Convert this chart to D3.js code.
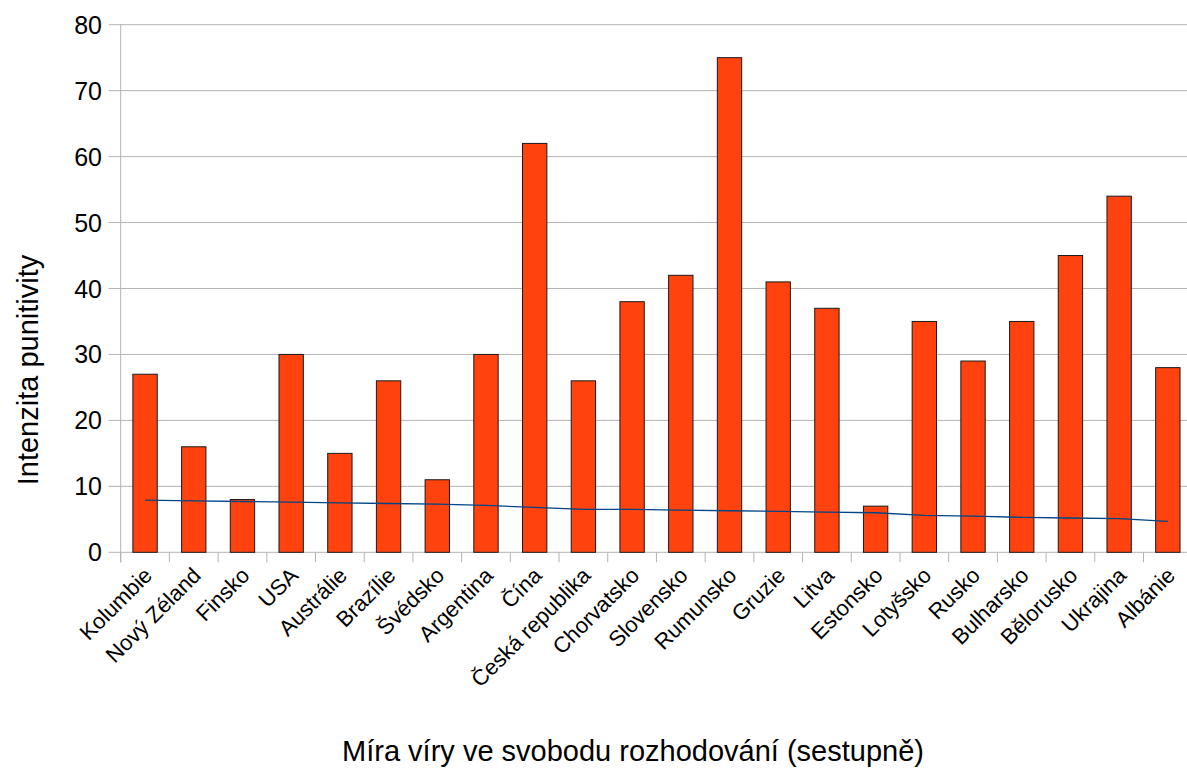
<!DOCTYPE html>
<html>
<head>
<meta charset="utf-8">
<script src="https://cdn.jsdelivr.net/npm/d3@7"></script>
<style>
  html, body { margin: 0; padding: 0; background: #fff; }
  svg { display: block; font-family: "Liberation Sans", Arial, sans-serif; }
</style>
</head>
<body>
<svg id="chart" width="1187" height="773"></svg>
<script>
// Countries ordered by belief in free will (descending)
const categories = [
  "Kolumbie", "Nový Zéland", "Finsko", "USA", "Austrálie", "Brazílie",
  "Švédsko", "Argentina", "Čína", "Česká republika", "Chorvatsko",
  "Slovensko", "Rumunsko", "Gruzie", "Litva", "Estonsko", "Lotyšsko",
  "Rusko", "Bulharsko", "Bělorusko", "Ukrajina", "Albánie"
];
// Punitivity intensity (bars)
const punitivity = [27, 16, 8, 30, 15, 26, 11, 30, 62, 26, 38, 42, 75, 41, 37, 7, 35, 29, 35, 45, 54, 28];
// Free-will belief score (line)
const freeWill = [7.9, 7.8, 7.7, 7.6, 7.5, 7.4, 7.3, 7.1, 6.8, 6.5, 6.5, 6.4, 6.3, 6.2, 6.1, 6.0, 5.6, 5.5, 5.3, 5.2, 5.1, 4.7];
const yTicks = [0, 10, 20, 30, 40, 50, 60, 70, 80];

const svg = d3.select("#chart");
const plotLeft = 120.7, plotRight = 1192.2, plotTop = 24.7, plotBottom = 552.3;

const x = d3.scaleBand().domain(categories).range([plotLeft, plotRight])
  .paddingInner(0.5).paddingOuter(0.25);
const y = d3.scaleLinear().domain([0, 80]).range([plotBottom, plotTop]);
const step = x.step();

// horizontal grid lines + y tick marks
svg.append("g").selectAll("line").data(yTicks).join("line")
  .attr("x1", plotLeft - 12).attr("x2", 1187)
  .attr("y1", d => y(d)).attr("y2", d => y(d))
  .attr("stroke", "#b3b3b3").attr("stroke-width", 1);

// y axis line
svg.append("line")
  .attr("x1", plotLeft).attr("x2", plotLeft).attr("y1", plotTop).attr("y2", plotBottom + 10)
  .attr("stroke", "#b3b3b3").attr("stroke-width", 1);

// x tick marks at category boundaries
const boundaries = categories.map(c => x(c) - (step - x.bandwidth()) / 2).concat([plotRight]);
svg.append("g").selectAll("line").data(boundaries).join("line")
  .attr("x1", d => d).attr("x2", d => d)
  .attr("y1", plotBottom).attr("y2", plotBottom + 10)
  .attr("stroke", "#b3b3b3").attr("stroke-width", 1);

// y tick labels
svg.append("g").selectAll("text").data(yTicks).join("text")
  .attr("x", 102).attr("y", d => y(d))
  .attr("dy", "0.36em")
  .attr("text-anchor", "end")
  .attr("font-size", 25)
  .attr("fill", "#000")
  .text(d => d);

// bars
svg.append("g").selectAll("rect").data(categories).join("rect")
  .attr("x", c => x(c))
  .attr("y", (c, i) => y(punitivity[i]))
  .attr("width", x.bandwidth())
  .attr("height", (c, i) => y(0) - y(punitivity[i]))
  .attr("fill", "#ff420e")
  .attr("stroke", "#1a1a1a")
  .attr("stroke-width", 1);

// free-will line
const line = d3.line()
  .x((d, i) => x(categories[i]) + x.bandwidth() / 2)
  .y(d => y(d));
svg.append("path")
  .datum(freeWill)
  .attr("d", line)
  .attr("fill", "none")
  .attr("stroke", "#004586")
  .attr("stroke-width", 1.3);

// category labels, rotated
svg.append("g").selectAll("text").data(categories).join("text")
  .attr("transform", c => `translate(${x(c) + x.bandwidth() / 2 + 3},${plotBottom + 19}) rotate(-45)`)
  .attr("text-anchor", "end")
  .attr("dy", "0.35em")
  .attr("font-size", 22)
  .attr("fill", "#000")
  .text(c => c);

// axis titles
svg.append("text")
  .attr("transform", "translate(38,370) rotate(-90)")
  .attr("text-anchor", "middle")
  .attr("font-size", 29)
  .attr("fill", "#000")
  .text("Intenzita punitivity");

svg.append("text")
  .attr("x", 633).attr("y", 761)
  .attr("text-anchor", "middle")
  .attr("font-size", 29)
  .attr("fill", "#000")
  .text("Míra víry ve svobodu rozhodování (sestupně)");
</script>
</body>
</html>
